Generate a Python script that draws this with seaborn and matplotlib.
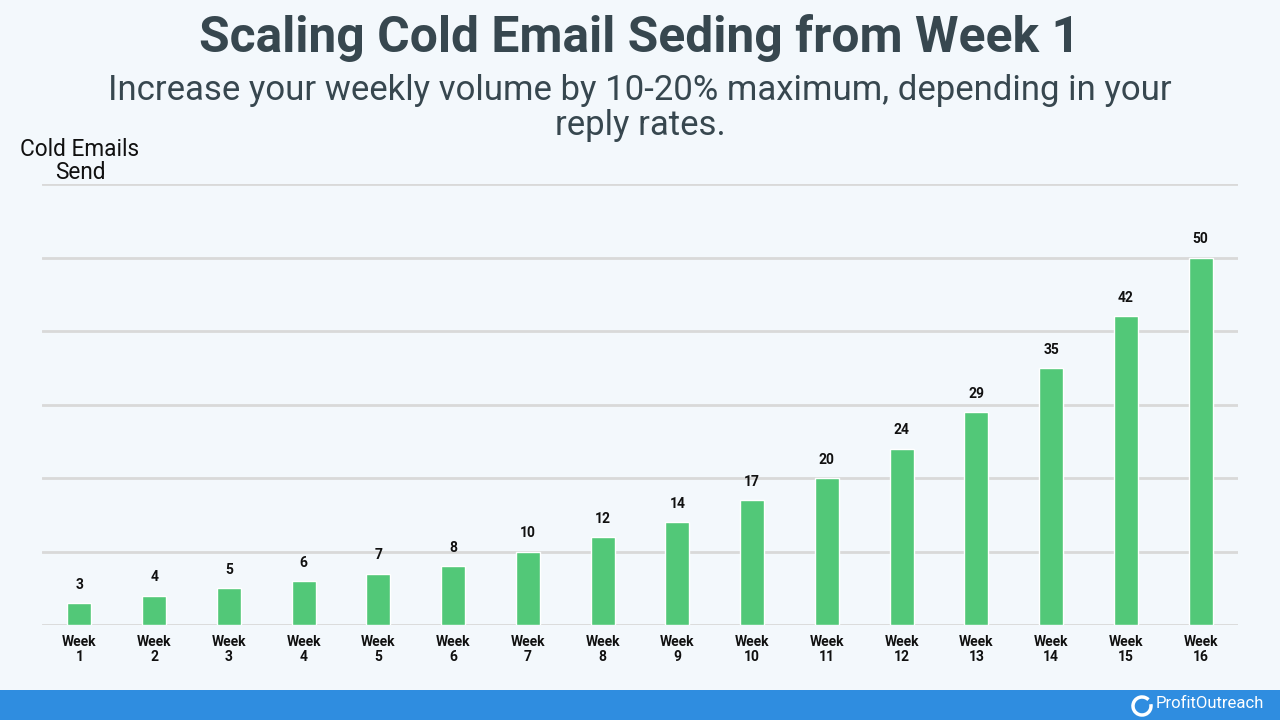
import matplotlib
matplotlib.use("Agg")
import matplotlib.pyplot as plt
import seaborn as sns
import pandas as pd
from matplotlib.patches import Rectangle, Arc

weeks = [f"Week\n{i}" for i in range(1, 17)]
emails = [3, 4, 5, 6, 7, 8, 10, 12, 14, 17, 20, 24, 29, 35, 42, 50]
title = "Scaling Cold Email Seding from Week 1"
subtitle = "Increase your weekly volume by 10-20% maximum, depending in your\nreply rates."
ylabel = "Cold Emails\nSend"

sns.set_theme(style="white")
plt.rcParams['font.family'] = ['Roboto', 'DejaVu Sans']

bg = "#f3f8fc"
fig = plt.figure(figsize=(12.8, 7.2), dpi=100, facecolor=bg)
ax = fig.add_axes([42/1280, 95/720, 1196/1280, 441/720])
ax.set_facecolor("none")

df = pd.DataFrame({"week": weeks, "emails": emails})
sns.barplot(data=df, x="week", y="emails", color="#52c878", saturation=1,
            width=0.32, ax=ax, zorder=3)
ax.set_ylim(0, 60)
ax.set_yticks(range(0, 61, 10))
ax.yaxis.grid(True, color="#d9d9d9", linewidth=2, zorder=0)
ax.set_axisbelow(True)
ax.tick_params(axis="y", left=False, labelleft=False)
ax.tick_params(axis="x", bottom=False, pad=1.5, labelsize=10)
for lbl in ax.get_xticklabels():
    lbl.set_fontweight("bold")
    lbl.set_color("#111111")
    lbl.set_linespacing(1.05)
for s in ax.spines.values():
    s.set_visible(False)
ax.set_xlabel("")
ax.set_ylabel("")
for i, v in enumerate(emails):
    ax.annotate(str(v), (i, v), xytext=(0, 8), textcoords="offset points",
                ha="center", va="bottom", fontsize=10, fontweight="bold", color="#111111")

fig.text(0.5, 1 - 38/720, title, ha="center", va="center", fontsize=35.8,
         fontweight="bold", color="#37474f")
fig.text(0.5, 1 - 108/720, subtitle, ha="center", va="center", fontsize=25,
         color="#37474f", linespacing=1.05)
fig.text(80/1280, 1 - 161/720, ylabel, ha="center", va="center", fontsize=16.3,
         color="#111111", linespacing=1.05)

# bottom band
fig.patches.append(Rectangle((0, 0), 1, 30/720, transform=fig.transFigure,
                             facecolor="#2f8de0", edgecolor="none", zorder=0))
fig.patches.append(Arc((1142/1280, 14/720), 18/1280, 18/720, theta1=60, theta2=380,
                       transform=fig.transFigure, color="white", linewidth=2.5))
fig.text(1156/1280, 17/720, "ProfitOutreach", ha="left", va="center", fontsize=12,
         color="white")

fig.savefig("out.png", dpi=100, facecolor=bg)
